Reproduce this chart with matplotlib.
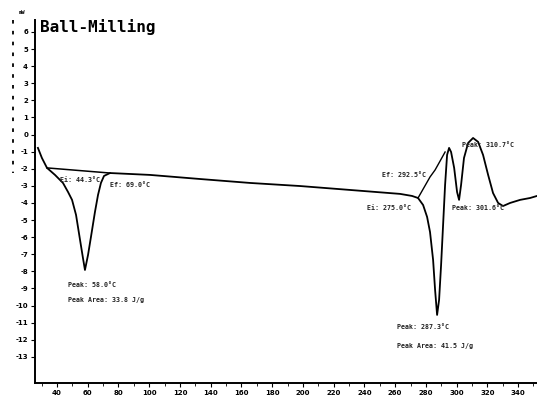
import matplotlib
matplotlib.use('Agg')
import matplotlib.pyplot as plt
from matplotlib.lines import Line2D
from matplotlib.ticker import MultipleLocator

# ------------------------------------------------------------
# data (Temperature in C, heat flow in mW)
# ------------------------------------------------------------
temp = [27.6, 30.2, 33.5, 38.7, 43.9, 47.2, 49.8, 52.4, 55.0, 56.9, 58.2,
        60.2, 62.1, 64.7, 66.7, 68.6, 70.6, 74.5, 100.5, 133.1, 165.6,
        198.1, 230.7, 263.2, 271.0, 274.9, 278.2, 280.8, 282.7, 284.7,
        286.0, 287.3, 288.6, 289.9, 291.2, 292.5, 293.8, 295.1, 296.4,
        298.4, 300.3, 301.6, 302.9, 304.8, 307.5, 310.7, 314.0, 317.2,
        320.5, 323.7, 327.0, 330.2, 334.8, 341.3, 347.8, 352.3]
heat_flow = [-0.78, -1.37, -1.95, -2.36, -2.83, -3.36, -3.82, -4.70, -6.16,
             -7.22, -7.92, -7.04, -5.99, -4.53, -3.53, -2.83, -2.42, -2.25,
             -2.36, -2.60, -2.83, -3.01, -3.24, -3.47, -3.59, -3.71, -4.12,
             -4.82, -5.70, -7.33, -9.09, -10.55, -9.67, -7.63, -5.29, -2.95,
             -1.19, -0.78, -1.02, -1.95, -3.36, -3.82, -2.95, -1.37, -0.49,
             -0.20, -0.43, -1.19, -2.36, -3.42, -4.00, -4.18, -4.00, -3.82,
             -3.71, -3.59]

# integration baseline under the first peak
base_temp = [33.5, 74.5]
base_flow = [-1.95, -2.25]

# tangent line from the onset of the second event
tang_temp = [274.9, 277.5, 280.1, 282.7, 286.0, 289.3, 292.5]
tang_flow = [-3.71, -3.30, -2.89, -2.48, -2.07, -1.54, -1.02]

x_ticks = list(range(40, 341, 20))
y_ticks = list(range(6, -14, -1))

# annotations: (text, T, mW)
notes = [
    ('Ei: 44.3°C', 42.0, -2.65),
    ('Ef: 69.0°C', 74.5, -2.95),
    ('Peak: 58.0°C', 47.2, -8.80),
    ('Peak Area: 33.8 J/g', 47.2, -9.67),
    ('Ei: 275.0°C', 241.7, -4.29),
    ('Ef: 292.5°C', 251.5, -2.36),
    ('Peak: 301.6°C', 297.0, -4.29),
    ('Peak: 310.7°C', 303.5, -0.61),
    ('Peak: 287.3°C', 261.2, -11.25),
    ('Peak Area: 41.5 J/g', 261.2, -12.36),
]

mono = 'DejaVu Sans Mono'

fig = plt.figure(figsize=(5.37, 4.05), dpi=100)
ax = fig.add_axes([35 / 537, 22 / 405, 502 / 537, 363 / 405])

ax.plot(temp, heat_flow, color='black', lw=1.3)
ax.plot(base_temp, base_flow, color='black', lw=1.1)
ax.plot(tang_temp, tang_flow, color='black', lw=1.0)

for txt, tx, ty in notes:
    ax.text(tx, ty, txt, fontsize=4.8, family=mono, fontweight='bold',
            va='center', ha='left', color='#222222')

ax.set_xlim(25.7, 352.3)
ax.set_ylim(-14.53, 6.70)

ax.set_xticks(x_ticks)
ax.set_xticklabels([str(t) for t in x_ticks], fontsize=5, fontweight='bold')
ax.xaxis.set_minor_locator(MultipleLocator(10))
ax.set_yticks(y_ticks)
ax.set_yticklabels([str(v) for v in y_ticks], fontsize=5, fontweight='bold')
ax.tick_params(axis='both', which='major', length=3, width=0.8, pad=2)
ax.tick_params(axis='x', which='minor', length=2, width=0.6)

for side in ['top', 'right']:
    ax.spines[side].set_visible(False)
ax.spines['left'].set_linewidth(1.4)
ax.spines['bottom'].set_linewidth(1.4)

# title inside the plot frame, typewriter style
fig.text(40 / 537, 1 - 27 / 405, 'Ball-Milling', fontsize=11.5, family=mono,
         fontweight='bold', va='center', ha='left')

# unit label and dashed scale column at the far left
fig.text(22 / 537, 1 - 12 / 405, 'mW', fontsize=4, family=mono,
         fontweight='bold', ha='center', va='center')
fig.add_artist(Line2D([13 / 537, 13 / 537], [1 - 20 / 405, 1 - 173 / 405],
                      transform=fig.transFigure, color='black', lw=1.3,
                      linestyle=(0, (2, 4))))

plt.savefig('out.png', dpi=100)
plt.close()
